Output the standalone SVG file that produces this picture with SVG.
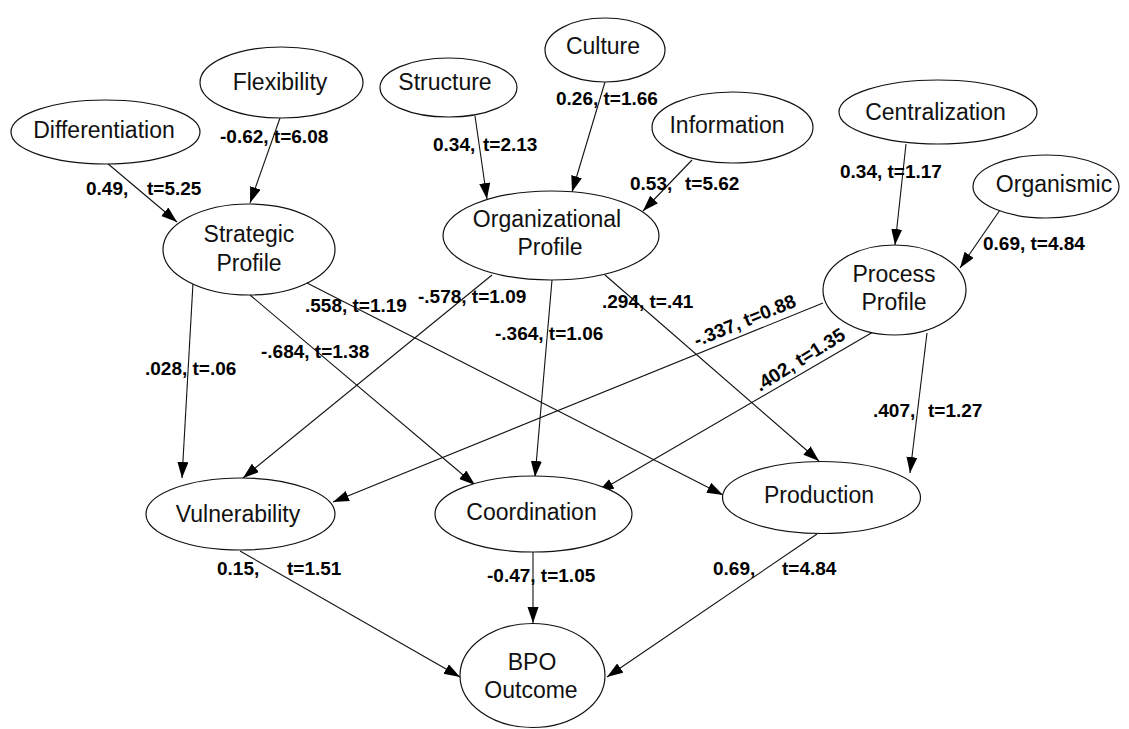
<svg xmlns="http://www.w3.org/2000/svg" width="1129" height="729" viewBox="0 0 1129 729">
<style>
.n ellipse{fill:#fff;stroke:#111;stroke-width:1.2}
.n text{font-family:"Liberation Sans",Arial,sans-serif;font-size:23px;fill:#111;text-anchor:middle}
.c line{stroke:#111;stroke-width:1.1;marker-end:url(#ah)}
.l text{font-family:"Liberation Sans",Arial,sans-serif;font-size:19px;font-weight:bold;fill:#000}
</style>
<defs>
<marker id="ah" markerUnits="userSpaceOnUse" markerWidth="17" markerHeight="12" refX="16" refY="5.5" orient="auto">
<path d="M0,0 L16,5.5 L0,11 z" fill="#000"/>
</marker>
</defs>
<rect width="1129" height="729" fill="#fff"/>
<g class="c" id="connectors">
<line x1="107" y1="163" x2="177" y2="222"/>
<line x1="280" y1="118" x2="250" y2="203"/>
<line x1="475" y1="116" x2="487" y2="199"/>
<line x1="605" y1="82" x2="572" y2="192"/>
<line x1="692" y1="160" x2="643" y2="211"/>
<line x1="906" y1="144" x2="895" y2="245"/>
<line x1="1000" y1="210" x2="960" y2="268"/>
<line x1="193" y1="283" x2="182" y2="478"/>
<line x1="250" y1="295" x2="475" y2="485"/>
<line x1="307" y1="283" x2="723" y2="495"/>
<line x1="492" y1="275" x2="243" y2="478"/>
<line x1="552" y1="280" x2="535" y2="477"/>
<line x1="605" y1="275" x2="819" y2="461"/>
<line x1="823" y1="303" x2="333" y2="502"/>
<line x1="873" y1="332" x2="598" y2="492"/>
<line x1="927" y1="333" x2="910" y2="473"/>
<line x1="240" y1="551" x2="460" y2="677"/>
<line x1="533" y1="552" x2="533" y2="623"/>
<line x1="817" y1="534" x2="607" y2="677"/>
</g>
<g class="n" id="differentiation"><ellipse cx="105.5" cy="132" rx="94.5" ry="32"/><text x="104" y="138">Differentiation</text></g>
<g class="n" id="flexibility"><ellipse cx="281.5" cy="82.5" rx="81.5" ry="35.5"/><text x="280" y="90">Flexibility</text></g>
<g class="n" id="structure"><ellipse cx="448.5" cy="87.5" rx="68.5" ry="29.5"/><text x="445" y="90">Structure</text></g>
<g class="n" id="culture"><ellipse cx="605" cy="50" rx="60" ry="32"/><text x="603" y="54">Culture</text></g>
<g class="n" id="information"><ellipse cx="732.5" cy="127.5" rx="80.5" ry="35.5"/><text x="727" y="133">Information</text></g>
<g class="n" id="centralization"><ellipse cx="938" cy="112" rx="99" ry="32"/><text x="935.5" y="120">Centralization</text></g>
<g class="n" id="organismic"><ellipse cx="1046" cy="186.5" rx="73" ry="31.5"/><text x="1054" y="192">Organismic</text></g>
<g class="n" id="strategic-profile"><ellipse cx="249" cy="249.5" rx="86" ry="45.5"/><text x="249" y="242">Strategic</text><text x="249" y="271">Profile</text></g>
<g class="n" id="organizational-profile"><ellipse cx="551" cy="235.5" rx="108" ry="44.5"/><text x="547" y="227">Organizational</text><text x="550" y="255">Profile</text></g>
<g class="n" id="process-profile"><ellipse cx="894.5" cy="290" rx="71.5" ry="45"/><text x="894" y="282">Process</text><text x="894" y="310">Profile</text></g>
<g class="n" id="vulnerability"><ellipse cx="240.5" cy="514" rx="94.5" ry="36"/><text x="238" y="522">Vulnerability</text></g>
<g class="n" id="coordination"><ellipse cx="533.5" cy="514" rx="98.5" ry="38"/><text x="531.5" y="520">Coordination</text></g>
<g class="n" id="production"><ellipse cx="821.5" cy="497.5" rx="99" ry="36"/><text x="819" y="503">Production</text></g>
<g class="n" id="bpo-outcome"><ellipse cx="532.5" cy="675.5" rx="72.5" ry="52"/><text x="532" y="670">BPO</text><text x="531" y="698">Outcome</text></g>
<g class="l" id="labels">
<text y="195"><tspan x="86">0.49,</tspan><tspan x="147">t=5.25</tspan></text>
<text x="220" y="143">-0.62, t=6.08</text>
<text y="151"><tspan x="433">0.34,</tspan><tspan x="483">t=2.13</tspan></text>
<text x="556" y="105">0.26, t=1.66</text>
<text y="190"><tspan x="630">0.53,</tspan><tspan x="685">t=5.62</tspan></text>
<text x="840" y="178">0.34, t=1.17</text>
<text x="983" y="250">0.69, t=4.84</text>
<text x="145" y="375">.028, t=.06</text>
<text x="305" y="312">.558, t=1.19</text>
<text x="418" y="303">-.578, t=1.09</text>
<text x="261" y="358">-.684, t=1.38</text>
<text x="495" y="340">-.364, t=1.06</text>
<text x="602" y="308">.294, t=.41</text>
<text x="697" y="347" transform="rotate(-22.2 697 347)">-.337, t=0.88</text>
<text x="760" y="392" transform="rotate(-31.8 760 392)">.402, t=1.35</text>
<text y="417"><tspan x="873">.407,</tspan><tspan x="928">t=1.27</tspan></text>
<text y="575"><tspan x="217">0.15,</tspan><tspan x="287">t=1.51</tspan></text>
<text x="487" y="582">-0.47, t=1.05</text>
<text y="575"><tspan x="713">0.69,</tspan><tspan x="782">t=4.84</tspan></text>
</g>
</svg>
